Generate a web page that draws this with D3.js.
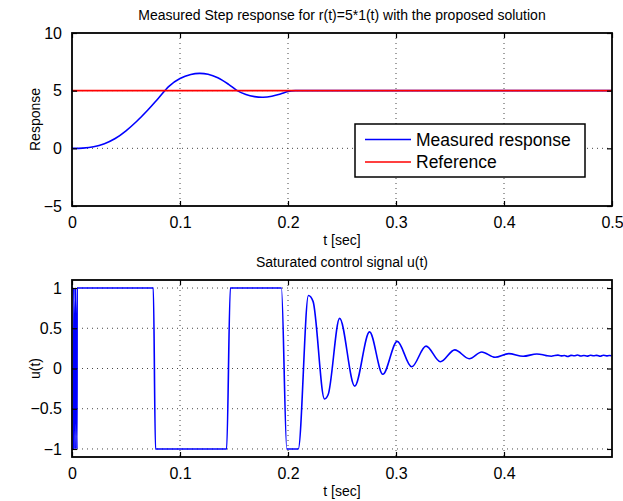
<!DOCTYPE html>
<html><head><meta charset="utf-8">
<script src="https://cdn.jsdelivr.net/npm/d3@7"></script>
<style>
html,body{margin:0;padding:0;background:#fff;}
svg{display:block;font-family:"Liberation Sans",Arial,Helvetica,sans-serif;}
</style></head>
<body>
<svg id="c" width="623" height="501"></svg>
<script>
// ---------- data ----------
const respT = [0, 0.01, 0.02, 0.03, 0.04, 0.05, 0.06, 0.07, 0.08, 0.09, 0.1, 0.11, 0.118, 0.126, 0.135, 0.145, 0.153, 0.161, 0.169, 0.177, 0.185, 0.193, 0.2, 0.207, 0.215, 0.3, 0.4, 0.5];
const respV = [0, 0.02, 0.13, 0.4, 0.85, 1.52, 2.35, 3.3, 4.35, 5.4, 6.05, 6.4, 6.5, 6.42, 6.12, 5.55, 5.0, 4.66, 4.48, 4.43, 4.52, 4.72, 4.92, 5.0, 5.0, 5.0, 5.0, 5.0];
const refT = [0, 0.5];
const refV = [5, 5];

const uT = [0.0014, 0.0016, 0.0030, 0.0032, 0.0046, 0.0048,
  0.0753, 0.0773, 0.1432, 0.1466, 0.1939, 0.1989, 0.2095,
  0.2189, 0.2232, 0.2338, 0.2372, 0.2478, 0.2618, 0.2755, 0.2878, 0.3011, 0.3145,
  0.3278, 0.3411, 0.3544, 0.3678, 0.3794, 0.3917, 0.4044, 0.4177, 0.4304,
  0.436, 0.440, 0.444, 0.447, 0.450, 0.453, 0.456, 0.459, 0.462, 0.465, 0.468, 0.471,
  0.474, 0.477, 0.480, 0.483, 0.486, 0.489, 0.492, 0.495, 0.4975, 0.4997];
const uV = [-1, 1, -1, 1, -1, 1,
  1, -1, -1, 1, 1, -1, -1,
  0.907, 0.834, -0.379, -0.324, 0.623, -0.219, 0.455, -0.072, 0.337, 0.021,
  0.278, 0.084, 0.232, 0.122, 0.206, 0.139, 0.185, 0.152, 0.181,
  0.172, 0.158, 0.153, 0.162, 0.166, 0.157, 0.161, 0.150, 0.163, 0.158, 0.167, 0.156,
  0.162, 0.154, 0.165, 0.158, 0.163, 0.152, 0.164, 0.157, 0.161, 0.158];

const topTicksX = [0, 0.1, 0.2, 0.3, 0.4, 0.5];
const botTicksX = [0, 0.1, 0.2, 0.3, 0.4];
const topTicksY = [-5, 0, 5, 10];
const botTicksY = [-1, -0.5, 0, 0.5, 1];

const title1 = "Measured Step response for r(t)=5*1(t) with the proposed solution";
const title2 = "Saturated control signal u(t)";
const xLabel = "t [sec]";
const yLabel1 = "Response";
const yLabel2 = "u(t)";
const legendNames = ["Measured response", "Reference"];
const colors = ["#0000ff", "#ff0000"];

// ---------- layout ----------
const svg = d3.select("#c");
const L = 72, R = 612;
const top1 = 33, bot1 = 206;
const top2 = 280, bot2 = 457;

const x = d3.scaleLinear().domain([0, 0.5]).range([L, R]);
const y1 = d3.scaleLinear().domain([-5, 10]).range([bot1, top1]);
const y2 = d3.scaleLinear().domain([-1.1, 1.1]).range([bot2, top2]);

const fmt = d => (d < 0 ? "\u2212" + Math.abs(d) : String(d));

function panel(id, yS, top, bot, xt, yt, series, title, ylab) {
  const g = svg.append("g");
  g.append("clipPath").attr("id", id).append("rect")
    .attr("x", L).attr("y", top).attr("width", R - L).attr("height", bot - top);
  // grid
  const grid = g.append("g").attr("stroke", "#444").attr("stroke-width", 1)
    .attr("stroke-dasharray", "1,4");
  xt.filter(t => x(t) > L + 1 && x(t) < R - 1).forEach(t => {
    grid.append("line").attr("x1", x(t)).attr("x2", x(t)).attr("y1", top).attr("y2", bot);
  });
  yt.filter(v => yS(v) > top + 1 && yS(v) < bot - 1).forEach(v => {
    grid.append("line").attr("x1", L).attr("x2", R).attr("y1", yS(v)).attr("y2", yS(v));
  });
  // series
  const pg = g.append("g").attr("clip-path", `url(#${id})`);
  series.forEach(s => {
    const line = d3.line().x(d => x(d[0])).y(d => yS(d[1])).curve(s.curve);
    pg.append("path").datum(s.t.map((t, i) => [t, s.v[i]]))
      .attr("d", line).attr("fill", "none").attr("stroke", s.c).attr("stroke-width", 1.6)
      .attr("stroke-linejoin", "round");
  });
  // axes with inward ticks
  const tk = 5;
  const axB = d3.axisBottom(x).tickValues(xt).tickSizeInner(-tk).tickSizeOuter(0).tickPadding(11).tickFormat(fmt);
  const axT = d3.axisTop(x).tickValues(xt).tickSizeInner(-tk).tickSizeOuter(0).tickFormat("");
  const axL = d3.axisLeft(yS).tickValues(yt).tickSizeInner(-tk).tickSizeOuter(0).tickPadding(10).tickFormat(fmt);
  const axR = d3.axisRight(yS).tickValues(yt).tickSizeInner(-tk).tickSizeOuter(0).tickFormat("");
  const style = sel => {
    sel.select(".domain").remove();
    sel.selectAll("line").attr("stroke", "#000").attr("stroke-width", 1.2);
    sel.selectAll("text").attr("fill", "#000").attr("font-size", 16)
      .attr("font-family", "Liberation Sans, Arial, sans-serif");
  };
  g.append("g").attr("transform", `translate(0,${bot})`).call(axB).call(style);
  g.append("g").attr("transform", `translate(0,${top})`).call(axT).call(style);
  g.append("g").attr("transform", `translate(${L},0)`).call(axL).call(style);
  g.append("g").attr("transform", `translate(${R},0)`).call(axR).call(style);
  g.append("rect").attr("x", L).attr("y", top).attr("width", R - L).attr("height", bot - top)
    .attr("fill", "none").attr("stroke", "#000").attr("stroke-width", 1.8);
  // title & labels
  g.append("text").attr("x", (L + R) / 2).attr("y", top - 13).attr("text-anchor", "middle")
    .attr("font-size", 14).text(title);
  g.append("text").attr("x", (L + R) / 2).attr("y", bot + 39).attr("text-anchor", "middle")
    .attr("font-size", 14).text(xLabel);
  g.append("text").attr("transform", `translate(40,${(top + bot) / 2}) rotate(-90)`)
    .attr("text-anchor", "middle").attr("font-size", 14).text(ylab);
  return g;
}

panel("clip1", y1, top1, bot1, topTicksX, topTicksY,
  [{t: respT, v: respV, c: colors[0], curve: d3.curveCatmullRom.alpha(0.5)},
   {t: refT, v: refV, c: colors[1], curve: d3.curveLinear}], title1, yLabel1);
panel("clip2", y2, top2, bot2, botTicksX, botTicksY,
  [{t: uT, v: uV, c: colors[0], curve: d3.curveMonotoneX}], title2, yLabel2);

// legend
const lg = svg.append("g").attr("transform", "translate(355,124)");
lg.append("rect").attr("width", 230).attr("height", 53).attr("fill", "#fff")
  .attr("stroke", "#000").attr("stroke-width", 1.5);
legendNames.forEach((n, i) => {
  const yy = 15.5 + i * 22.5;
  lg.append("line").attr("x1", 10).attr("x2", 56).attr("y1", yy).attr("y2", yy)
    .attr("stroke", colors[i]).attr("stroke-width", 1.6);
  lg.append("text").attr("x", 61).attr("y", yy + 6).attr("font-size", 17.5).text(n);
});
</script>
</body></html>
